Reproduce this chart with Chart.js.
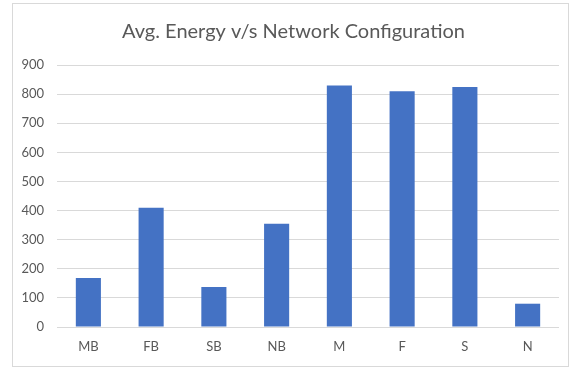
<!DOCTYPE html>
<html>
<head>
<meta charset="utf-8">
<script src="https://cdn.jsdelivr.net/npm/chart.js@4"></script>
<style>
  html, body { margin: 0; padding: 0; background: #fff; }
  #wrap { position: relative; width: 571px; height: 367px; }
  #frame { position: absolute; left: 12px; top: 3px; width: 555px; height: 362px; border: 1px solid #d9d9d9; pointer-events: none; }
</style>
</head>
<body>
<div id="wrap">
  <canvas id="energyChart" width="571" height="367"></canvas>
  <div id="frame"></div>
</div>
<script>
// Network configurations and their average energy
const configs = ['MB', 'FB', 'SB', 'NB', 'M', 'F', 'S', 'N'];
const avgEnergy = [168, 410, 137, 355, 830, 810, 824, 80];
const yTicks = [0, 100, 200, 300, 400, 500, 600, 700, 800, 900];

const textGrey = '#595959';

// nudge the title a bit to the right, the original is centred over the plot
const titleShift = {
    id: 'titleShift',
    afterLayout(chart) {
        if (chart.titleBlock) {
            chart.titleBlock.left += 8;
            chart.titleBlock.right += 8;
        }
    },
};

const ctx = document.getElementById('energyChart').getContext('2d');
const chart = new Chart(ctx, {
    type: 'bar',
    data: {
        labels: configs,
        datasets: [{
            label: 'Avg. Energy',
            data: avgEnergy,
            backgroundColor: '#4472C4',
            borderWidth: 0,
            categoryPercentage: 1.0,
            barPercentage: 0.4,
        }],
    },
    options: {
        responsive: false,
        animation: false,
        layout: {
            padding: { top: 3, left: 12, right: 12, bottom: 0 },
        },
        plugins: {
            legend: { display: false },
            tooltip: { enabled: false },
            title: {
                display: true,
                text: 'Avg. Energy v/s Network Configuration',
                color: textGrey,
                font: { family: 'Lato', size: 20, weight: 'normal' },
                padding: { top: 17, bottom: 21 },
            },
        },
        scales: {
            x: {
                grid: { display: false, drawTicks: false },
                border: { display: false },
                ticks: {
                    color: textGrey,
                    font: { family: 'Lato', size: 13 },
                    padding: 12,
                },
                afterFit: (scale) => { scale.height = 40; },
            },
            y: {
                min: 0,
                max: 900,
                afterBuildTicks: (scale) => { scale.ticks = yTicks.map(v => ({ value: v })); },
                grid: { color: '#d9d9d9', lineWidth: 1, drawTicks: false },
                border: { display: false },
                ticks: {
                    color: textGrey,
                    font: { family: 'Lato', size: 13 },
                    padding: 13,
                },
                afterFit: (scale) => { scale.width = 45; },
            },
        },
    },
    plugins: [titleShift],
});
</script>
</body>
</html>
